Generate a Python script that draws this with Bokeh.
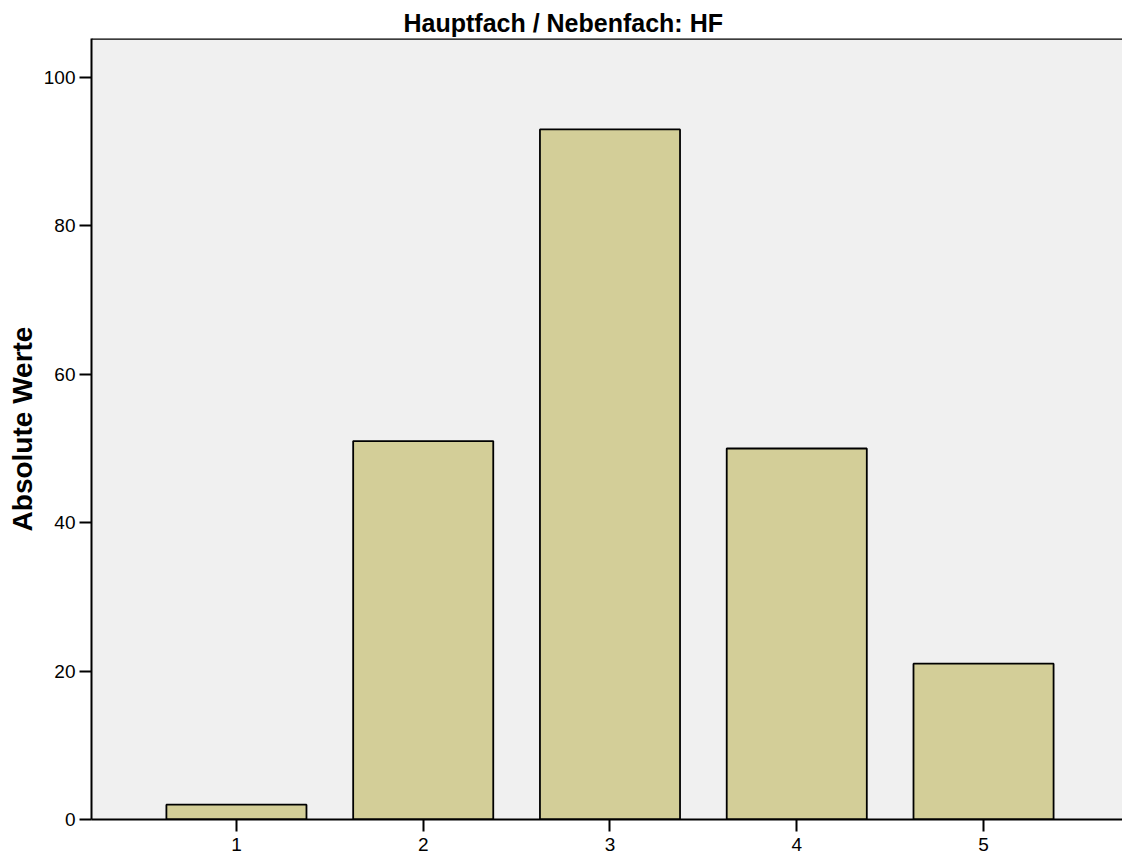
from bokeh.plotting import figure
from bokeh.models import Range1d, FixedTicker, Span
from bokeh.embed import file_html
from bokeh.resources import INLINE

categories = [1, 2, 3, 4, 5]
values = [2, 51, 93, 50, 21]
y_ticks = [0, 20, 40, 60, 80, 100]
title_text = "Hauptfach / Nebenfach: HF"
y_label = "Absolute Werte"

FONT = "Liberation Sans"
y_end = 105.25

p = figure(width=1122, height=853, output_backend="svg", toolbar_location=None,
           x_range=Range1d(0.224, 5.744), y_range=Range1d(0, y_end),
           min_border_left=91, min_border_right=0, min_border_top=38, min_border_bottom=0,
           background_fill_color="white", border_fill_color="white")
p.background_fill_color = "#f0f0f0"
p.outline_line_color = None

p.title.text = title_text
p.title.text_font = FONT
p.title.text_font_size = "25px"
p.title.text_font_style = "bold"
p.title.text_color = "black"
p.title.align = "left"
p.title.offset = 312
p.title.standoff = 3

p.vbar(x=categories, top=values, width=0.75, fill_color="#d3ce98",
       line_color="black", line_width=1.8)

p.add_layout(Span(location=y_end, dimension="width", line_color="black", line_width=2.5))

p.xgrid.visible = False
p.ygrid.visible = False

for ax in (p.xaxis[0], p.yaxis[0]):
    ax.axis_line_color = "black"
    ax.axis_line_width = 2
    ax.major_tick_line_color = "black"
    ax.major_tick_line_width = 2
    ax.major_tick_out = 12
    ax.major_tick_in = 0
    ax.minor_tick_line_color = None
    ax.major_label_text_font = FONT
    ax.major_label_text_color = "black"

p.xaxis.ticker = FixedTicker(ticks=categories)
p.xaxis.major_label_text_font_size = "19px"
p.xaxis.major_label_standoff = 6

p.yaxis.ticker = FixedTicker(ticks=y_ticks)
p.yaxis.major_label_text_font_size = "19px"
p.yaxis.major_label_standoff = 4
p.yaxis.axis_label = y_label
p.yaxis.axis_label_text_font = FONT
p.yaxis.axis_label_text_font_size = "28px"
p.yaxis.axis_label_text_font_style = "bold"
p.yaxis.axis_label_text_color = "black"
p.yaxis.axis_label_standoff = 3

open("out.html", "w").write(file_html(p, INLINE))
